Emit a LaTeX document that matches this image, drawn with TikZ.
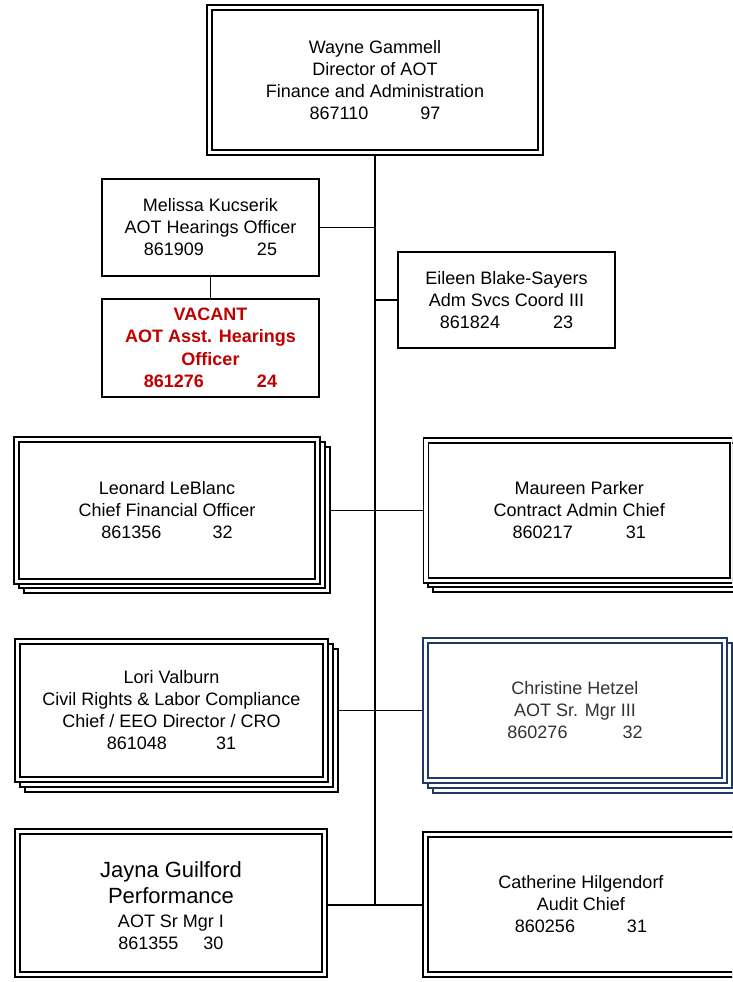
\documentclass[tikz,border=0pt]{standalone}
\usepackage{fontspec}
\setmainfont{Liberation Sans}
\usetikzlibrary{backgrounds}
\definecolor{vacred}{HTML}{C00000}
\definecolor{navy}{HTML}{1F3864}
\newcommand\stackshadow[2]{%
  \draw[stackline, draw=#2] ([shift={(7,12)}]#1.south west) rectangle ([shift={(12,7)}]#1.north east);
  \draw[stackline, draw=#2] ([shift={(2,7)}]#1.south west) rectangle ([shift={(7,2)}]#1.north east);
}
\begin{document}
\begin{tikzpicture}[x=1pt,y=-1pt,
  every node/.style={font=\fontsize{18}{22}\selectfont, align=center, inner sep=0pt, outer sep=0pt},
  singlebox/.style={draw, line width=1.8pt, fill=white},
  dblbox/.style={draw, line width=1.6pt, double=white, double distance=3.4pt, fill=white},
  link/.style={line width=1.6pt},
  stackline/.style={line width=2pt, fill=white},
  vactext/.style={text=vacred, font=\fontsize{18}{22.5}\selectfont\bfseries},
]
\useasboundingbox (0,0) rectangle (732,982);
\clip (0,0) rectangle (732,982);

\node[dblbox, minimum width=331pt, minimum height=145pt] (wg) at (375,80)
  {Wayne Gammell\\Director of AOT\\Finance and Administration\\867110\hspace{52pt}97};

\node[singlebox, minimum width=217pt, minimum height=97pt] (mk) at (210.5,227.5)
  {Melissa Kucserik\\AOT Hearings Officer\\861909\hspace{53pt}25};

\node[singlebox, vactext, minimum width=217pt, minimum height=98pt] (va) at (210.5,348)
  {VACANT\\AOT Asst. Hearings\\Officer\\861276\hspace{53pt}24};

\node[singlebox, minimum width=217pt, minimum height=96pt] (eb) at (506.5,300)
  {Eileen Blake-Sayers\\Adm Svcs Coord III\\861824\hspace{53pt}23};

\node[dblbox, minimum width=301pt, minimum height=141.5pt] (ll) at (167,510.5)
  {Leonard LeBlanc\\Chief Financial Officer\\861356\hspace{51pt}32};

\node[dblbox, minimum width=306.5pt, minimum height=139.5pt] (mp) at (579.25,510.5)
  {Maureen Parker\\Contract Admin Chief\\860217\hspace{53pt}31};

\node[dblbox, minimum width=308pt, minimum height=138pt] (lv) at (171.5,710.5)
  {Lori Valburn\\Civil Rights \& Labor Compliance\\Chief / EEO Director / CRO\\861048\hspace{49pt}31};

\node[dblbox, draw=navy, text=black!80, minimum width=299pt, minimum height=140pt] (ch) at (575,710.5)
  {Christine Hetzel\\AOT Sr. Mgr III\\860276\hspace{55pt}32};

\node[dblbox, minimum width=307pt, minimum height=143pt] (jg) at (171,903)
  {\rule{0pt}{22pt}\fontsize{22}{26}\selectfont Jayna Guilford\\[4pt]\fontsize{22}{26}\selectfont Performance\\[2pt]\fontsize{18}{22}\selectfont AOT Sr Mgr I\\\fontsize{18}{22}\selectfont 861355\hspace{25pt}30};

\node[dblbox, minimum width=311pt, minimum height=140pt] (ca) at (581,904.5)
  {Catherine Hilgendorf\\Audit Chief\\860256\hspace{52pt}31};

\begin{scope}[on background layer]
  \coordinate (tb) at (375,905);
  \draw[link] (wg.south) -- (tb);
  \draw[link] (mk.east) -- (mk.east -| wg.south);
  \draw[link] (eb.west) -- (eb.west -| wg.south);
  \draw[link] (mk.south) -- (va.north);
  \draw[link] (ll.east) -- (mp.west);
  \draw[link] (lv.east) -- (ch.west);
  \draw[link] (jg.east |- tb) -- (ca.west |- tb);
  \stackshadow{ll}{black}
  \stackshadow{mp}{black}
  \stackshadow{lv}{black}
  \stackshadow{ch}{navy}
\end{scope}
\end{tikzpicture}
\end{document}
